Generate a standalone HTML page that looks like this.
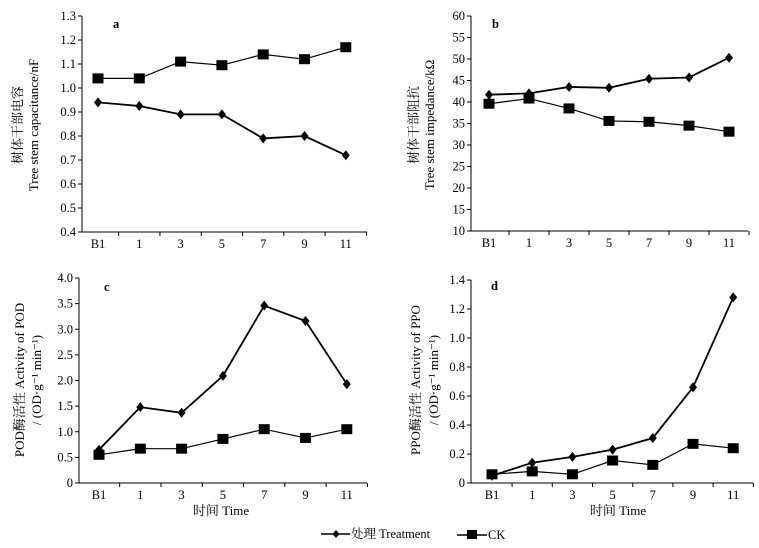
<!DOCTYPE html>
<html><head><meta charset="utf-8"><style>
body{margin:0;background:#fff}
svg{display:block;font-family:"Liberation Serif","Noto Serif CJK SC",serif;font-size:12.5px}
</style></head><body>
<svg id="chart" width="759" height="548" viewBox="0 0 759 548" xmlns="http://www.w3.org/2000/svg"></svg>
<script>
const categories=["B1","1","3","5","7","9","11"];
const aTreat=[0.94,0.925,0.89,0.89,0.79,0.80,0.72];
const aCK=[1.04,1.04,1.11,1.095,1.14,1.12,1.17];
const bTreat=[41.7,42.0,43.5,43.3,45.4,45.7,50.3];
const bCK=[39.6,40.8,38.5,35.6,35.4,34.5,33.1];
const cTreat=[0.65,1.48,1.37,2.09,3.46,3.16,1.93];
const cCK=[0.55,0.67,0.67,0.86,1.05,0.88,1.05];
const dTreat=[0.05,0.14,0.18,0.23,0.31,0.66,1.28];
const dCK=[0.06,0.08,0.06,0.155,0.125,0.27,0.24];
const aTicks=["0.4","0.5","0.6","0.7","0.8","0.9","1.0","1.1","1.2","1.3"];
const bTicks=["10","15","20","25","30","35","40","45","50","55","60"];
const cTicks=["0","0.5","1.0","1.5","2.0","2.5","3.0","3.5","4.0"];
const dTicks=["0","0.2","0.4","0.6","0.8","1.0","1.2","1.4"];

const svg=document.getElementById('chart');
const NS="http://www.w3.org/2000/svg";
function mk(tag,attrs,parent,text){const e=document.createElementNS(NS,tag);for(const k in attrs)e.setAttribute(k,attrs[k]);if(text!==undefined)e.textContent=text;(parent||svg).appendChild(e);return e;}

const panels=[
 {id:'a',x0:82,x1:367,yTop:16,yBot:232,first:98,step:41.3,ticks:aTicks,min:0.4,max:1.3,treat:aTreat,ck:aCK,letter:[113,28],
  ylab:["树体干部电容","Tree stem capacitance/nF"],ylx:[22,38],lcy:125,xlab:false},
 {id:'b',x0:471,x1:748,yTop:16,yBot:231,first:489,step:40,ticks:bTicks,min:10,max:60,treat:bTreat,ck:bCK,letter:[492,28],
  ylab:["树体干部阻抗","Tree stem impedance/kΩ"],ylx:[418,434],lcy:125,xlab:false},
 {id:'c',x0:79,x1:367,yTop:278,yBot:483,first:99,step:41.3,ticks:cTicks,min:0,max:4,treat:cTreat,ck:cCK,letter:[104,291],
  ylab:["POD酶活性  Activity of POD","/ (OD·g⁻¹ min⁻¹)"],ylx:[24,41],lcy:380,xlab:[221,515]},
 {id:'d',x0:471,x1:753,yTop:280,yBot:483,first:492,step:40.2,ticks:dTicks,min:0,max:1.4,treat:dTreat,ck:dCK,letter:[491,290],
  ylab:["PPO酶活性  Activity of PPO","/ (OD·g⁻¹ min⁻¹)"],ylx:[420,438],lcy:380,xlab:[618,515]}
];

panels.forEach(p=>{
 const g=mk('g',{});
 
 
 const yS=v=>p.yBot-(v-p.min)/(p.max-p.min)*(p.yBot-p.yTop);
 const xS=i=>p.first+i*p.step;
 const ya=mk('line',{x1:p.x0,y1:p.yTop,x2:p.x0,y2:p.yBot,stroke:'#000','stroke-width':1},g);
 
 
 const xa=mk('line',{x1:p.x0,y1:p.yBot,x2:p.x1,y2:p.yBot,stroke:'#000','stroke-width':1},g);
 
 
 p.ticks.forEach(t=>{
  const y=yS(parseFloat(t));
  mk('line',{x1:p.x0-4,y1:y,x2:p.x0,y2:y,stroke:'#000'},g);
  const tl=mk('text',{x:p.x0-6,y:y+4,'text-anchor':'end'},g,t);
  
  
 });
 categories.forEach((c,i)=>{
  const tx=xS(i)+p.step/2;
  mk('line',{x1:tx,y1:p.yBot,x2:tx,y2:p.yBot+4,stroke:'#000'},g);
  const tl=mk('text',{x:xS(i),y:p.yBot+16,'text-anchor':'middle'},g,c);
  
  
 });
 const lt=mk('text',{x:p.letter[0],y:p.letter[1],'font-weight':'bold'},g,p.id);
 
 
 p.ylab.forEach((s,k)=>{
  const t=mk('text',{x:p.ylx[k],y:p.lcy,'text-anchor':'middle','font-size':13,transform:`rotate(-90 ${p.ylx[k]} ${p.lcy})`},g,s);
  
  
 });
 if(p.xlab){
  const t=mk('text',{x:p.xlab[0],y:p.xlab[1],'text-anchor':'middle','font-size':13},g,'时间 Time');
  
  
 }
 [['ck',p.ck,1.2],['treat',p.treat,1.8]].forEach(([nm,arr,w])=>{
  const pl=mk('polyline',{points:arr.map((v,i)=>xS(i)+','+yS(v)).join(' '),fill:'none',stroke:'#000','stroke-width':w},g);
  
  
  arr.forEach((v,i)=>{
   const x=xS(i),y=yS(v);
   let m;
   if(nm==='ck') m=mk('rect',{x:x-5.5,y:y-5,width:11,height:10,fill:'#000'},g);
   else m=mk('polygon',{points:`${x},${y-5} ${x+4},${y} ${x},${y+5} ${x-4},${y}`,fill:'#000'},g);
   
   
  });
 });
});

const lg=mk('g',{});


const l1=mk('g',{},lg);


mk('line',{x1:321,y1:534,x2:350,y2:534,stroke:'#000','stroke-width':1.5},l1);
mk('polygon',{points:'336,530 339.5,534 336,538 332.5,534',fill:'#000'},l1);
mk('text',{x:351,y:538},l1,'处理 Treatment');
const l2=mk('g',{},lg);


mk('line',{x1:457,y1:535,x2:487,y2:535,stroke:'#000','stroke-width':1.5},l2);
mk('rect',{x:467,y:530,width:10,height:9,fill:'#000'},l2);
mk('text',{x:488,y:539},l2,'CK');
</script>
</body></html>
